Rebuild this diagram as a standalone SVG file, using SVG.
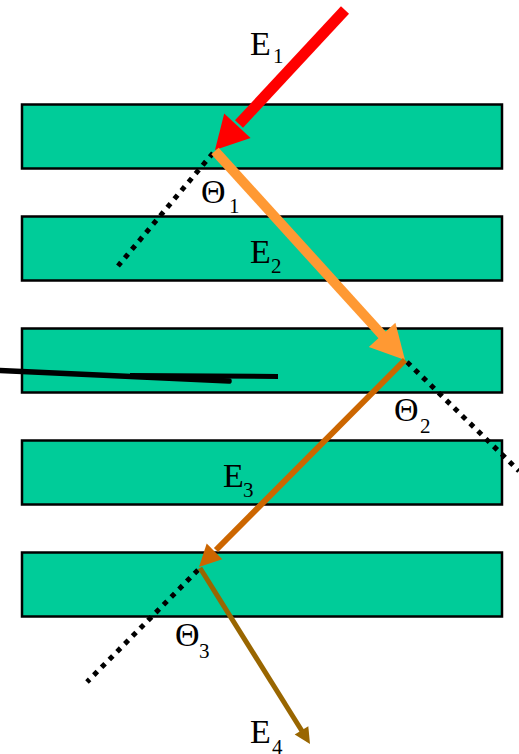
<svg xmlns="http://www.w3.org/2000/svg" width="519" height="754" viewBox="0 0 519 754">
<style>
.layer{fill:#00CC99;stroke:#000;stroke-width:2.5}
.dot{stroke:#000;stroke-width:5;stroke-dasharray:5 6;fill:none}
.lbl{font-family:"Liberation Serif","Times New Roman",serif;font-size:34px;fill:#000}
.sub{font-size:21px}
</style>
<rect width="519" height="754" fill="#fff"/>
<g id="layers">
<rect id="layer1" class="layer" x="22" y="104.5" width="480" height="64"/>
<rect id="layer2" class="layer" x="22" y="216.5" width="480" height="64"/>
<rect id="layer3" class="layer" x="22" y="328.5" width="480" height="64"/>
<rect id="layer4" class="layer" x="22" y="440.5" width="480" height="64"/>
<rect id="layer5" class="layer" x="22" y="552.5" width="480" height="64"/>
</g>
<g id="blackline" stroke="#000" fill="none">
<line x1="0" y1="370.5" x2="229" y2="381" stroke-width="5.5" stroke-linecap="round"/>
<line x1="130" y1="375.5" x2="278" y2="376.5" stroke-width="5"/>
</g>
<g id="connectors">
<line class="dot" x1="213" y1="153" x2="118" y2="266"/>
<line class="dot" x1="407" y1="362" x2="519" y2="471"/>
<line class="dot" x1="198" y1="570" x2="87" y2="682"/>
<g id="E1-arrow" fill="#FF0000">
<line x1="345" y1="10" x2="239" y2="124" stroke="#FF0000" stroke-width="11"/>
<polygon points="215,150 224.2,113.6 250.6,138"/>
</g>
<g id="E2-arrow" fill="#FF9933">
<line x1="215" y1="151" x2="384" y2="337" stroke="#FF9933" stroke-width="10"/>
<polygon points="405,360 395.4,322.7 368.8,346.9"/>
</g>
<g id="E3-arrow" fill="#CC6600">
<line x1="405" y1="360" x2="216" y2="550" stroke="#CC6600" stroke-width="6"/>
<polygon points="199,567 206.7,543.6 222.3,559.2"/>
</g>
<g id="E4-arrow" fill="#996600">
<line x1="200" y1="568" x2="302" y2="731" stroke="#996600" stroke-width="5"/>
<polygon points="310,744 294.7,734.6 308.3,726.2"/>
</g>
</g>
<g id="labels" class="lbl">
<g id="E1"><text x="250" y="55">E</text><text class="sub" x="273" y="63">1</text></g>
<g id="Theta1"><text x="201" y="203">Θ</text><text class="sub" x="229" y="213">1</text></g>
<g id="E2"><text x="250" y="263">E</text><text class="sub" x="271" y="273">2</text></g>
<g id="Theta2"><text x="394" y="421">Θ</text><text class="sub" x="420" y="433">2</text></g>
<g id="E3"><text x="223" y="487">E</text><text class="sub" x="243" y="497">3</text></g>
<g id="Theta3"><text x="175" y="646">Θ</text><text class="sub" x="199" y="658">3</text></g>
<g id="E4"><text x="250" y="743">E</text><text class="sub" x="272" y="754">4</text></g>
</g>
</svg>
